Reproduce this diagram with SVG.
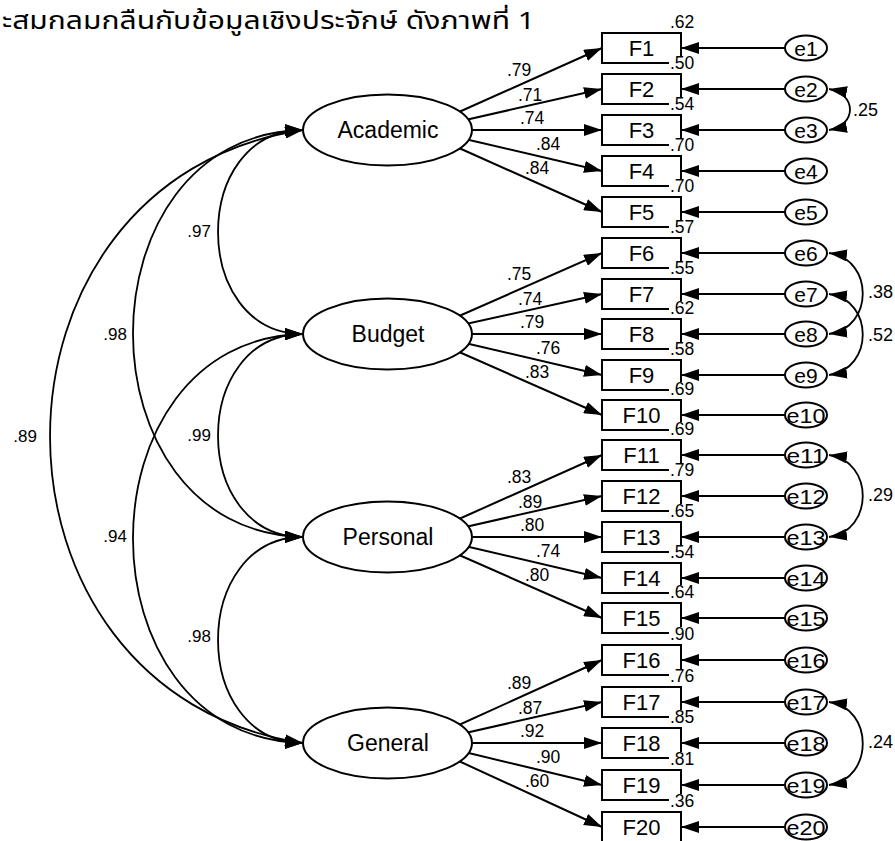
<svg xmlns="http://www.w3.org/2000/svg" width="895" height="841" viewBox="0 0 895 841">
<style>
text{font-family:"Liberation Sans",Arial,sans-serif;fill:#000}
.hdr{font-family:"Noto Sans Thai","Noto Sans","DejaVu Sans",sans-serif;font-size:24px}
.lat ellipse{fill:#fff;stroke:#000;stroke-width:2}
.lat text{font-size:23px;text-anchor:middle}
.obs rect{fill:#fff;stroke:#000;stroke-width:2}
.obs text{font-size:22px;text-anchor:middle}
.err ellipse{fill:#fff;stroke:#000;stroke-width:2}
.err text{font-size:21px;text-anchor:middle}
.r2 rect{fill:#fff;stroke:none}
.r2 text{font-size:17.5px}
.lbl{font-size:17.5px}
.cl{font-size:17px;text-anchor:end}
.ec{font-size:18px}
#connectors path{fill:none;stroke:#000;stroke-width:2;marker-end:url(#ah)}
#connectors path.cov{stroke-width:1.8;marker-start:url(#ah)}
</style>
<defs>
<marker id="ah" viewBox="0 0 18 12" refX="18" refY="6" markerWidth="18" markerHeight="12" markerUnits="userSpaceOnUse" orient="auto-start-reverse"><path d="M0,0 L18,6 L0,12 z" fill="#000"/></marker>
</defs>
<rect width="895" height="841" fill="#fff"/>
<text class="hdr" x="2" y="29" textLength="533" lengthAdjust="spacingAndGlyphs">ะสมกลมกลืนกับข้อมูลเชิงประจักษ์ ดังภาพที่ 1</text>

<g id="connectors">
<!-- latent to indicators -->
<path d="M450,116 L602,48"/><path d="M450,123.5 L602,89"/><path d="M450,130 L602,130"/><path d="M450,135.5 L602,171"/><path d="M450,144 L602,212"/>
<path d="M450,320 L602,253"/><path d="M450,327.5 L602,294"/><path d="M450,334 L602,334"/><path d="M450,339.5 L602,375"/><path d="M450,348 L602,415"/>
<path d="M450,523 L602,455"/><path d="M450,530.5 L602,496"/><path d="M450,537 L602,537"/><path d="M450,542.5 L602,578"/><path d="M450,551 L602,618"/>
<path d="M450,729 L602,660"/><path d="M450,736.5 L602,702"/><path d="M450,743 L602,743"/><path d="M450,748.5 L602,785"/><path d="M450,757 L602,827"/>
<!-- errors to indicators -->
<path d="M790,48 L681,48"/><path d="M790,89 L681,89"/><path d="M790,130 L681,130"/><path d="M790,171 L681,171"/><path d="M790,212 L681,212"/>
<path d="M790,253 L681,253"/><path d="M790,294 L681,294"/><path d="M790,334 L681,334"/><path d="M790,375 L681,375"/><path d="M790,415 L681,415"/>
<path d="M790,455 L681,455"/><path d="M790,496 L681,496"/><path d="M790,537 L681,537"/><path d="M790,578 L681,578"/><path d="M790,618 L681,618"/>
<path d="M790,660 L681,660"/><path d="M790,702 L681,702"/><path d="M790,743 L681,743"/><path d="M790,785 L681,785"/><path d="M790,827 L681,827"/>
<!-- latent covariances -->
<path class="cov" d="M303,130 C189.7,130 189.7,334 303,334"/>
<path class="cov" d="M303,130 C76.3,135 76.3,532 303,537"/>
<path class="cov" d="M303,130 C-34.3,180 -34.3,693 303,743"/>
<path class="cov" d="M303,334 C189.7,334 189.7,537 303,537"/>
<path class="cov" d="M303,334 C76.3,339 76.3,738 303,743"/>
<path class="cov" d="M303,537 C189.7,537 189.7,743 303,743"/>
<!-- error covariances -->
<path class="cov" d="M829,89 C857,94 857,125 829,130"/>
<path class="cov" d="M829,253 C874,259 874,328 829,334"/>
<path class="cov" d="M829,294 C874,300 874,369 829,375"/>
<path class="cov" d="M829,455 C874,461 874,531 829,537"/>
<path class="cov" d="M829,702 C874,708 874,779 829,785"/>
</g>

<g id="labels">
<g class="lbl">
<text x="507" y="76">.79</text><text x="518" y="100.5">.71</text><text x="520" y="124">.74</text><text x="536" y="149.5">.84</text><text x="525" y="174">.84</text>
<text x="507" y="280">.75</text><text x="518" y="304.5">.74</text><text x="520" y="328">.79</text><text x="536" y="353.5">.76</text><text x="525" y="378">.83</text>
<text x="507" y="483">.83</text><text x="518" y="507.5">.89</text><text x="520" y="531">.80</text><text x="536" y="556.5">.74</text><text x="525" y="581">.80</text>
<text x="507" y="689">.89</text><text x="518" y="713.5">.87</text><text x="520" y="737">.92</text><text x="536" y="762.5">.90</text><text x="525" y="787">.60</text>
</g>
<g class="cl">
<text x="211" y="237">.97</text>
<text x="127" y="340">.98</text>
<text x="37" y="442">.89</text>
<text x="211" y="441">.99</text>
<text x="127" y="542">.94</text>
<text x="211" y="642">.98</text>
</g>
<g class="ec">
<text x="853" y="116">.25</text>
<text x="868" y="298">.38</text>
<text x="868" y="341">.52</text>
<text x="868" y="501">.29</text>
<text x="868" y="748">.24</text>
</g>
</g>

<g id="Academic" class="lat"><ellipse cx="387.5" cy="130" rx="84.5" ry="35.5"/><text x="388" y="138">Academic</text></g>
<g id="Budget" class="lat"><ellipse cx="387.5" cy="334" rx="84.5" ry="35.5"/><text x="388" y="342">Budget</text></g>
<g id="Personal" class="lat"><ellipse cx="387.5" cy="537" rx="84.5" ry="35.5"/><text x="388" y="545">Personal</text></g>
<g id="General" class="lat"><ellipse cx="387.5" cy="743" rx="84.5" ry="35.5"/><text x="388" y="751">General</text></g>

<g id="F1" class="obs"><rect x="602" y="33" width="79" height="30"/><text x="641.5" y="56">F1</text></g>
<g id="F2" class="obs"><rect x="602" y="74" width="79" height="30"/><text x="641.5" y="97">F2</text></g>
<g id="F3" class="obs"><rect x="602" y="115" width="79" height="30"/><text x="641.5" y="138">F3</text></g>
<g id="F4" class="obs"><rect x="602" y="156" width="79" height="30"/><text x="641.5" y="179">F4</text></g>
<g id="F5" class="obs"><rect x="602" y="197" width="79" height="30"/><text x="641.5" y="220">F5</text></g>
<g id="F6" class="obs"><rect x="602" y="238" width="79" height="30"/><text x="641.5" y="261">F6</text></g>
<g id="F7" class="obs"><rect x="602" y="279" width="79" height="30"/><text x="641.5" y="302">F7</text></g>
<g id="F8" class="obs"><rect x="602" y="319" width="79" height="30"/><text x="641.5" y="342">F8</text></g>
<g id="F9" class="obs"><rect x="602" y="360" width="79" height="30"/><text x="641.5" y="383">F9</text></g>
<g id="F10" class="obs"><rect x="602" y="400" width="79" height="30"/><text x="641.5" y="423">F10</text></g>
<g id="F11" class="obs"><rect x="602" y="440" width="79" height="30"/><text x="641.5" y="463">F11</text></g>
<g id="F12" class="obs"><rect x="602" y="481" width="79" height="30"/><text x="641.5" y="504">F12</text></g>
<g id="F13" class="obs"><rect x="602" y="522" width="79" height="30"/><text x="641.5" y="545">F13</text></g>
<g id="F14" class="obs"><rect x="602" y="563" width="79" height="30"/><text x="641.5" y="586">F14</text></g>
<g id="F15" class="obs"><rect x="602" y="603" width="79" height="30"/><text x="641.5" y="626">F15</text></g>
<g id="F16" class="obs"><rect x="602" y="645" width="79" height="30"/><text x="641.5" y="668">F16</text></g>
<g id="F17" class="obs"><rect x="602" y="687" width="79" height="30"/><text x="641.5" y="710">F17</text></g>
<g id="F18" class="obs"><rect x="602" y="728" width="79" height="30"/><text x="641.5" y="751">F18</text></g>
<g id="F19" class="obs"><rect x="602" y="770" width="79" height="30"/><text x="641.5" y="793">F19</text></g>
<g id="F20" class="obs"><rect x="602" y="812" width="79" height="30"/><text x="641.5" y="835">F20</text></g>

<g id="r2" class="r2">
<rect x="669" y="15" width="28" height="13.5"/><text x="670" y="27.5">.62</text>
<rect x="669" y="56" width="28" height="13.5"/><text x="670" y="68.5">.50</text>
<rect x="669" y="97" width="28" height="13.5"/><text x="670" y="109.5">.54</text>
<rect x="669" y="138" width="28" height="13.5"/><text x="670" y="150.5">.70</text>
<rect x="669" y="179" width="28" height="13.5"/><text x="670" y="191.5">.70</text>
<rect x="669" y="220" width="28" height="13.5"/><text x="670" y="232.5">.57</text>
<rect x="669" y="261" width="28" height="13.5"/><text x="670" y="273.5">.55</text>
<rect x="669" y="301" width="28" height="13.5"/><text x="670" y="313.5">.62</text>
<rect x="669" y="342" width="28" height="13.5"/><text x="670" y="354.5">.58</text>
<rect x="669" y="382" width="28" height="13.5"/><text x="670" y="394.5">.69</text>
<rect x="669" y="422" width="28" height="13.5"/><text x="670" y="434.5">.69</text>
<rect x="669" y="463" width="28" height="13.5"/><text x="670" y="475.5">.79</text>
<rect x="669" y="504" width="28" height="13.5"/><text x="670" y="516.5">.65</text>
<rect x="669" y="545" width="28" height="13.5"/><text x="670" y="557.5">.54</text>
<rect x="669" y="585" width="28" height="13.5"/><text x="670" y="597.5">.64</text>
<rect x="669" y="627" width="28" height="13.5"/><text x="670" y="639.5">.90</text>
<rect x="669" y="669" width="28" height="13.5"/><text x="670" y="681.5">.76</text>
<rect x="669" y="710" width="28" height="13.5"/><text x="670" y="722.5">.85</text>
<rect x="669" y="752" width="28" height="13.5"/><text x="670" y="764.5">.81</text>
<rect x="669" y="794" width="28" height="13.5"/><text x="670" y="806.5">.36</text>
</g>

<g id="e1" class="err"><ellipse cx="806" cy="48" rx="21" ry="12.5"/><text x="806" y="55.5">e1</text></g>
<g id="e2" class="err"><ellipse cx="806" cy="89" rx="21" ry="12.5"/><text x="806" y="96.5">e2</text></g>
<g id="e3" class="err"><ellipse cx="806" cy="130" rx="21" ry="12.5"/><text x="806" y="137.5">e3</text></g>
<g id="e4" class="err"><ellipse cx="806" cy="171" rx="21" ry="12.5"/><text x="806" y="178.5">e4</text></g>
<g id="e5" class="err"><ellipse cx="806" cy="212" rx="21" ry="12.5"/><text x="806" y="219.5">e5</text></g>
<g id="e6" class="err"><ellipse cx="806" cy="253" rx="21" ry="12.5"/><text x="806" y="260.5">e6</text></g>
<g id="e7" class="err"><ellipse cx="806" cy="294" rx="21" ry="12.5"/><text x="806" y="301.5">e7</text></g>
<g id="e8" class="err"><ellipse cx="806" cy="334" rx="21" ry="12.5"/><text x="806" y="341.5">e8</text></g>
<g id="e9" class="err"><ellipse cx="806" cy="375" rx="21" ry="12.5"/><text x="806" y="382.5">e9</text></g>
<g id="e10" class="err"><ellipse cx="806" cy="415" rx="21" ry="12.5"/><text x="806" y="422.5" textLength="39" lengthAdjust="spacingAndGlyphs">e10</text></g>
<g id="e11" class="err"><ellipse cx="806" cy="455" rx="21" ry="12.5"/><text x="806" y="462.5" textLength="39" lengthAdjust="spacingAndGlyphs">e11</text></g>
<g id="e12" class="err"><ellipse cx="806" cy="496" rx="21" ry="12.5"/><text x="806" y="503.5" textLength="39" lengthAdjust="spacingAndGlyphs">e12</text></g>
<g id="e13" class="err"><ellipse cx="806" cy="537" rx="21" ry="12.5"/><text x="806" y="544.5" textLength="39" lengthAdjust="spacingAndGlyphs">e13</text></g>
<g id="e14" class="err"><ellipse cx="806" cy="578" rx="21" ry="12.5"/><text x="806" y="585.5" textLength="39" lengthAdjust="spacingAndGlyphs">e14</text></g>
<g id="e15" class="err"><ellipse cx="806" cy="618" rx="21" ry="12.5"/><text x="806" y="625.5" textLength="39" lengthAdjust="spacingAndGlyphs">e15</text></g>
<g id="e16" class="err"><ellipse cx="806" cy="660" rx="21" ry="12.5"/><text x="806" y="667.5" textLength="39" lengthAdjust="spacingAndGlyphs">e16</text></g>
<g id="e17" class="err"><ellipse cx="806" cy="702" rx="21" ry="12.5"/><text x="806" y="709.5" textLength="39" lengthAdjust="spacingAndGlyphs">e17</text></g>
<g id="e18" class="err"><ellipse cx="806" cy="743" rx="21" ry="12.5"/><text x="806" y="750.5" textLength="39" lengthAdjust="spacingAndGlyphs">e18</text></g>
<g id="e19" class="err"><ellipse cx="806" cy="785" rx="21" ry="12.5"/><text x="806" y="792.5" textLength="39" lengthAdjust="spacingAndGlyphs">e19</text></g>
<g id="e20" class="err"><ellipse cx="806" cy="827" rx="21" ry="12.5"/><text x="806" y="834.5" textLength="39" lengthAdjust="spacingAndGlyphs">e20</text></g>
</svg>
